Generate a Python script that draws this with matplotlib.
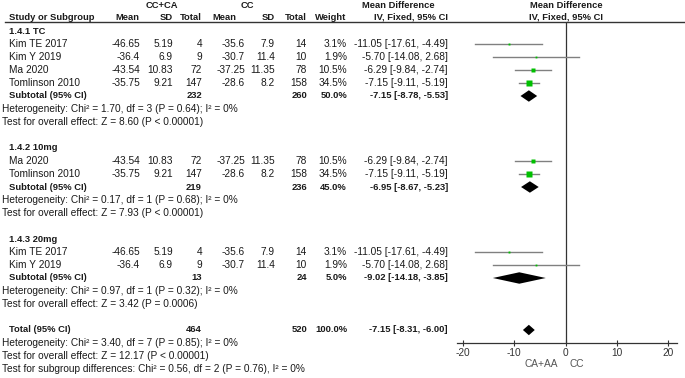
import numpy as np
import matplotlib.pyplot as plt

plt.rcParams['font.family'] = ['Liberation Sans', 'DejaVu Sans']

# study level data
study = ["Kim TE 2017", "Kim Y 2019", "Ma 2020", "Tomlinson 2010"]
mean_exp = [-46.65, -36.4, -43.54, -35.75]
sd_exp = [5.19, 6.9, 10.83, 9.21]
n_exp = [4, 9, 72, 147]
mean_ctl = [-35.6, -30.7, -37.25, -28.6]
sd_ctl = [7.9, 11.4, 11.35, 8.2]
n_ctl = [14, 10, 78, 158]
weight = [3.1, 1.9, 10.5, 34.5]
md = [-11.05, -5.70, -6.29, -7.15]
md_lo = [-17.61, -14.08, -9.84, -9.11]
md_hi = [-4.49, 2.68, -2.74, -5.19]

# subgroups
sub_names = ["1.4.1 TC", "1.4.2 10mg", "1.4.3 20mg"]
sub_members = [[0, 1, 2, 3], [2, 3], [0, 1]]
sub_n_exp = [232, 219, 13]
sub_n_ctl = [260, 236, 24]
sub_weight = [50.0, 45.0, 5.0]
sub_md = [-7.15, -6.95, -9.02]
sub_lo = [-8.78, -8.67, -14.18]
sub_hi = [-5.53, -5.23, -3.85]
sub_het = ["Chi² = 1.70, df = 3 (P = 0.64); I² = 0%",
           "Chi² = 0.17, df = 1 (P = 0.68); I² = 0%",
           "Chi² = 0.97, df = 1 (P = 0.32); I² = 0%"]
sub_z = ["Z = 8.60 (P < 0.00001)", "Z = 7.93 (P < 0.00001)", "Z = 3.42 (P = 0.0006)"]

# overall
total_n_exp, total_n_ctl = 464, 520
total_weight = 100.0
total_md, total_lo, total_hi = -7.15, -8.31, -6.00
total_het = "Chi² = 3.40, df = 7 (P = 0.85); I² = 0%"
total_z = "Z = 12.17 (P < 0.00001)"
subgroup_diff = "Chi² = 0.56, df = 2 (P = 0.76), I² = 0%"

ticks = [-20, -10, 0, 10, 20]
favours = ["CA+AA", "CC"]

# layout (pixels)
W, H = 685, 378
row0, row_h = 31, 13
x_name, x_het = 9, 2
x_cols = [140, 173, 202, 245, 275, 307, 347, 448]
fs, fsb = 7.3, 6.75
tc = '#1a1a1a'
green = '#00c000'

fig = plt.figure(figsize=(W / 100, H / 100), dpi=100)
bg = fig.add_axes([0, 0, 1, 1])
bg.set_xlim(0, W)
bg.set_ylim(H, 0)
bg.axis('off')


def ypix(r):
    return row0 + row_h * r


def txt(x, y, s, ha='left', bold=False, color=tc):
    bg.text(x, y, s, ha=ha, va='center', color=color,
            fontsize=fsb if bold else fs, fontweight='bold' if bold else 'normal')


def fmt_md(m, lo, hi):
    return f"{m:.2f} [{lo:.2f}, {hi:.2f}]"


# headers
txt(162, 5, "CC+CA", ha='center', bold=True)
txt(247, 5, "CC", ha='center', bold=True)
txt(398, 5, "Mean Difference", ha='center', bold=True)
txt(566, 5, "Mean Difference", ha='center', bold=True)
txt(x_name, 17, "Study or Subgroup", bold=True)
for x, s in zip([139, 173, 202, 236, 275, 307, 346, 448],
                ["Mean", "SD", "Total", "Mean", "SD", "Total", "Weight", "IV, Fixed, 95% CI"]):
    txt(x, 17, s, ha='right', bold=True)
txt(566, 17, "IV, Fixed, 95% CI", ha='center', bold=True)
bg.plot([5, W], [22, 22], color='#333333', lw=1)

# forest axes
px_per_unit = (668 - 463) / 40
xl = -20 - (463 - 457) / px_per_unit
xr = 20 + (677 - 668) / px_per_unit
ax = fig.add_axes([457 / W, (H - 343) / H, 220 / W, (343 - 22) / H])
ax.set_xlim(xl, xr)
ax.set_ylim(24, (22 - row0) / row_h)
ax.set_facecolor('none')
for s in ['top', 'left', 'right']:
    ax.spines[s].set_visible(False)
ax.spines['bottom'].set_color('#333333')
ax.spines['bottom'].set_linewidth(0.9)
ax.set_yticks([])
ax.set_xticks(ticks)
ax.set_xticklabels([str(t) for t in ticks])
ax.tick_params(axis='x', direction='inout', length=4.5, width=0.8,
               colors='#333333', labelsize=fs, pad=1)
ax.axvline(0, color='#333333', lw=0.9)


def diamond(r, m, lo, hi, h=0.44):
    ax.fill([lo, m, hi, m], [r, r - h, r, r + h], color='black', lw=0)


r = 0
for g, name in enumerate(sub_names):
    txt(x_name, ypix(r), name, bold=True)
    for i in sub_members[g]:
        r += 1
        y = ypix(r)
        txt(x_name, y, study[i])
        vals = [f"{mean_exp[i]:g}", f"{sd_exp[i]:g}", f"{n_exp[i]}",
                f"{mean_ctl[i]:g}", f"{sd_ctl[i]:g}", f"{n_ctl[i]}",
                f"{weight[i]:.1f}%", fmt_md(md[i], md_lo[i], md_hi[i])]
        for x, s in zip(x_cols, vals):
            txt(x, y, s, ha='right')
        ax.plot([md_lo[i], md_hi[i]], [r, r], color='#808080', lw=1.0, zorder=2)
        ax.plot(md[i], r, marker='s', ms=max(0.78 * np.sqrt(weight[i]), 1.3),
                color=green, mec='none', zorder=3)
    r += 1
    y = ypix(r)
    txt(x_name, y, "Subtotal (95% CI)", bold=True)
    txt(x_cols[2], y, str(sub_n_exp[g]), ha='right', bold=True)
    txt(x_cols[5], y, str(sub_n_ctl[g]), ha='right', bold=True)
    txt(x_cols[6], y, f"{sub_weight[g]:.1f}%", ha='right', bold=True)
    txt(x_cols[7], y, fmt_md(sub_md[g], sub_lo[g], sub_hi[g]), ha='right', bold=True)
    diamond(r, sub_md[g], sub_lo[g], sub_hi[g])
    r += 1
    txt(x_het, ypix(r), "Heterogeneity: " + sub_het[g])
    r += 1
    txt(x_het, ypix(r), "Test for overall effect: " + sub_z[g])
    r += 2

# total
y = ypix(r)
txt(x_name, y, "Total (95% CI)", bold=True)
txt(x_cols[2], y, str(total_n_exp), ha='right', bold=True)
txt(x_cols[5], y, str(total_n_ctl), ha='right', bold=True)
txt(x_cols[6], y, f"{total_weight:.1f}%", ha='right', bold=True)
txt(x_cols[7], y, fmt_md(total_md, total_lo, total_hi), ha='right', bold=True)
diamond(r, total_md, total_lo, total_hi, h=0.4)
txt(x_het, ypix(r + 1), "Heterogeneity: " + total_het)
txt(x_het, ypix(r + 2), "Test for overall effect: " + total_z)
txt(x_het, ypix(r + 3), "Test for subgroup differences: " + subgroup_diff)

# favours labels
txt(558, 364, favours[0], ha='right', color='#555555')
txt(570, 364, favours[1], ha='left', color='#555555')

fig.savefig('out.png', dpi=100)
